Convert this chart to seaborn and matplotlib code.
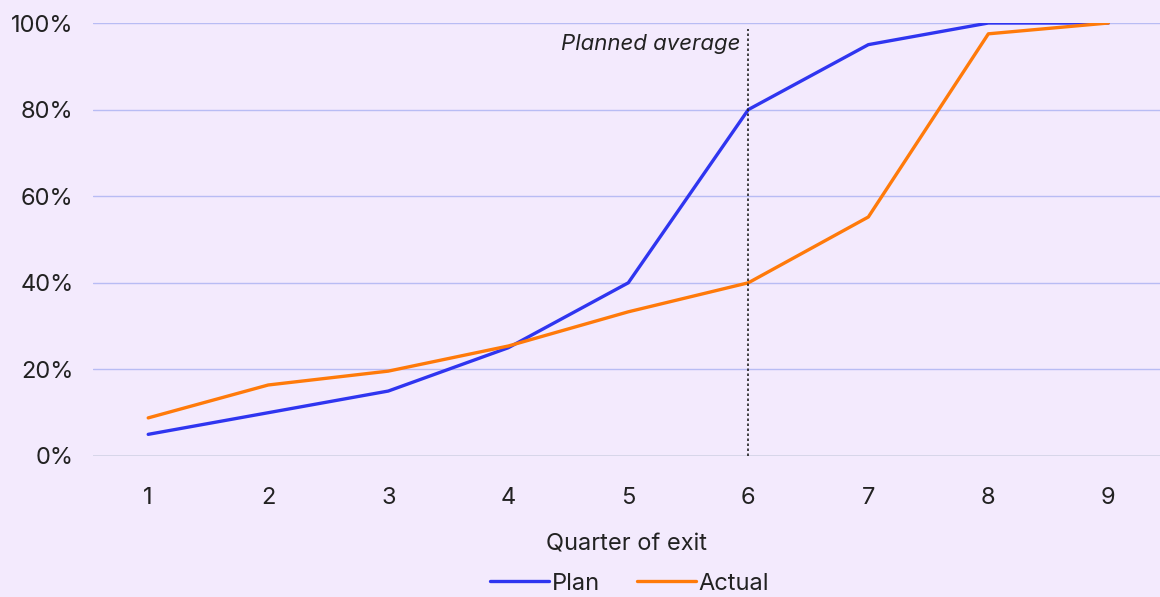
import pandas as pd
import matplotlib.pyplot as plt
import seaborn as sns
from matplotlib.ticker import FuncFormatter

# ----------------------------------------------------
# data
# ----------------------------------------------------
quarters = [1, 2, 3, 4, 5, 6, 7, 8, 9]
plan = [5, 10, 15, 25, 40, 80, 95, 100, 100]
actual = [8.8, 16.4, 19.6, 25.4, 33.3, 40, 55.2, 97.5, 100]
planned_avg = 6

df = pd.DataFrame({
    'quarter': quarters * 2,
    'value': plan + actual,
    'series': ['Plan'] * len(plan) + ['Actual'] * len(actual),
})

bg = '#f3eafd'
sns.set_theme(style='white')
plt.rcParams['font.family'] = ['Inter', 'DejaVu Sans']

fig = plt.figure(figsize=(11.6, 5.97), dpi=100, facecolor=bg)
ax = fig.add_axes([93 / 1160, 1 - 456 / 597, 1 - 93 / 1160, 433 / 597])
ax.set_facecolor(bg)

for y in [20, 40, 60, 80, 100]:
    ax.axhline(y, color='#b8bcf4', lw=1, zorder=0)
ax.axhline(0, color='#d2d2e6', lw=1.2, zorder=0)

sns.lineplot(data=df, x='quarter', y='value', hue='series',
             palette={'Plan': '#2f35f0', 'Actual': '#ff7a0a'},
             lw=2.4, ax=ax, legend=True)

ax.axvline(planned_avg, ymin=0, ymax=0.985, color='#222222', lw=1.2, ls=(0, (1.5, 1.5)))
ax.text(planned_avg - 0.07, 95.2, 'Planned average', style='italic', ha='right', va='center',
        fontsize=16, color='#222222')

ax.set_xlim(0.54, 9.43)
ax.set_ylim(0, 100)
ax.set_xticks(quarters)
ax.set_yticks([0, 20, 40, 60, 80, 100])
ax.yaxis.set_major_formatter(FuncFormatter(lambda v, p: f'{int(v)}%'))
ax.tick_params(axis='both', length=0, labelsize=17, colors='#222222')
ax.tick_params(axis='x', pad=22)
ax.tick_params(axis='y', pad=14)
ax.set_xlabel('Quarter of exit', fontsize=17, color='#222222', labelpad=18)
ax.set_ylabel('')
for s in ax.spines.values():
    s.set_visible(False)

ax.legend(loc='center', bbox_to_anchor=(0.503, -0.295), ncol=2, frameon=False,
          fontsize=17, handlelength=2.5, handletextpad=0.1, columnspacing=1.6,
          labelcolor='#222222')

fig.savefig('out.png', dpi=100, facecolor=bg)
